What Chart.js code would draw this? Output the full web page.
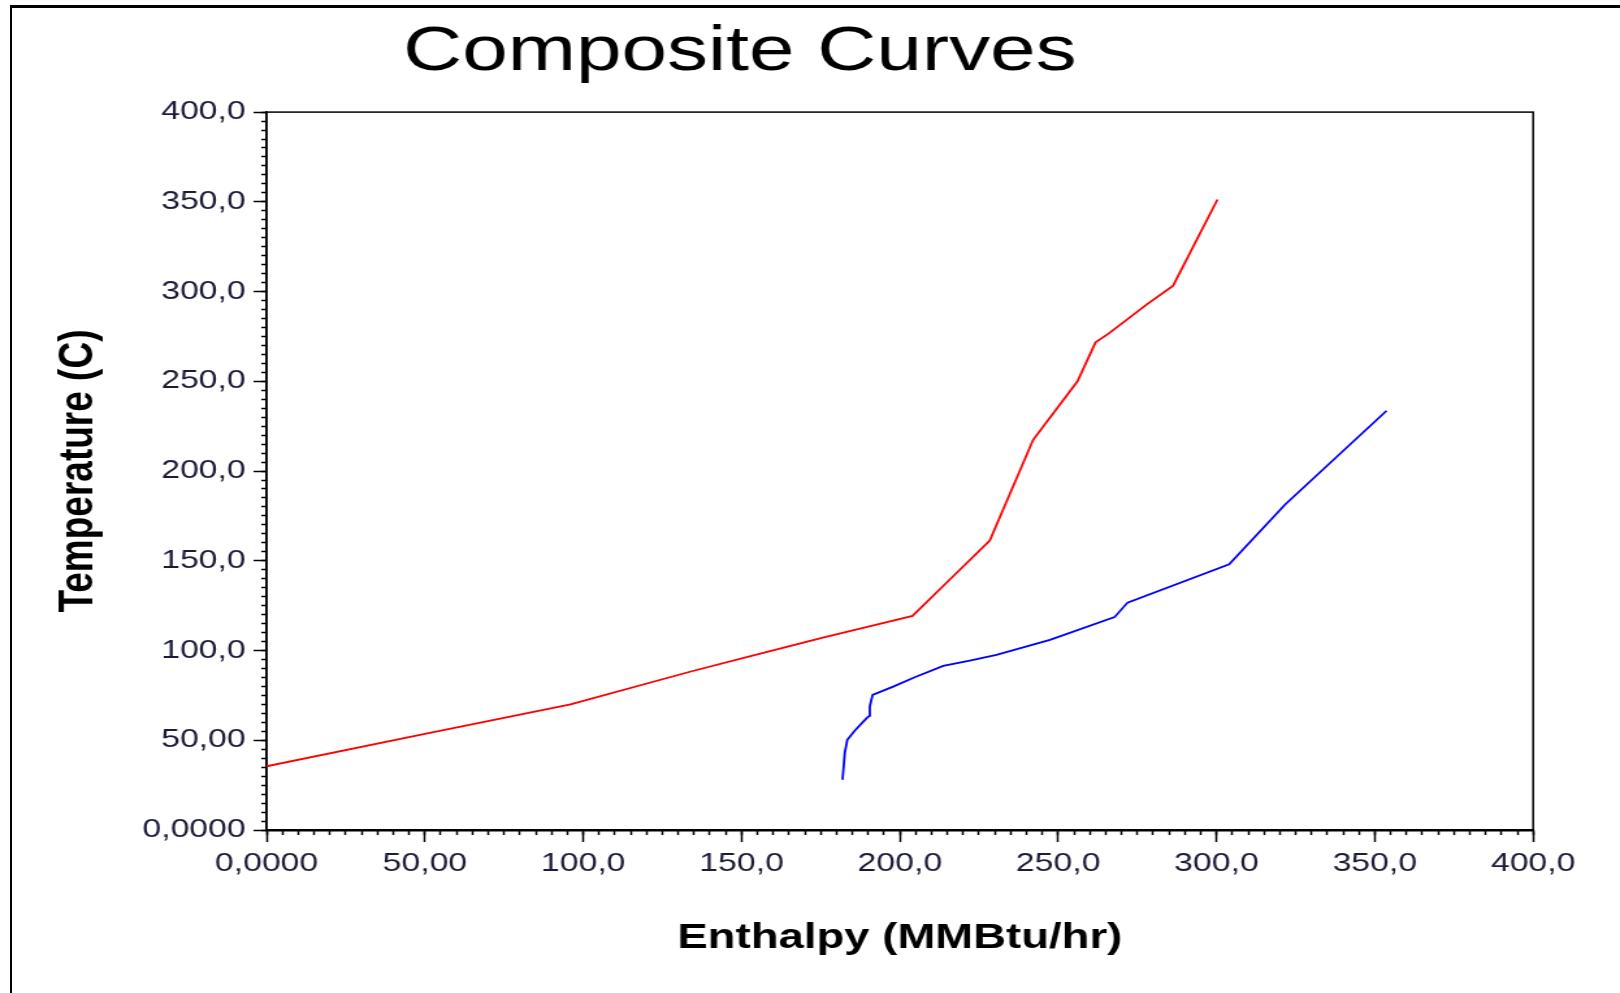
<!DOCTYPE html>
<html>
<head>
<meta charset="utf-8">
<title>Composite Curves</title>
<script src="https://cdn.jsdelivr.net/npm/chart.js@4.4.1/dist/chart.umd.min.js"></script>
<style>
  html, body { margin: 0; padding: 0; background: #fff; }
  body { width: 1620px; height: 993px; position: relative; overflow: hidden; }
  #frame { position: absolute; left: 10px; top: 5px; width: 1700px; height: 1100px;
           border-top: 3px solid #000; border-left: 2px solid #000; }
  #chart { position: absolute; left: 0; top: 0; }
</style>
</head>
<body>
<div id="frame"></div>
<!-- drawn at 1246 wide, shown 1620 wide (wide aspect like the old plot export) -->
<canvas id="chart" width="1246" height="993" style="width:1620px;height:993px"></canvas>
<script>
// Hot composite curve
const hotEnthalpy    = [0, 50, 96, 134, 155, 176, 192, 204, 214, 228.4, 242.1, 256.1, 261.8, 265.8, 277.9, 286.3, 300.3];
const hotTemperature = [35.5, 53.5, 70, 88.3, 97.8, 107.3, 114.1, 119.3, 136.5, 161.3, 217.4, 250, 271.7, 276.4, 292.7, 303.3, 351.3];

// Cold composite curve
const coldEnthalpy    = [181.9, 182.6, 183.4, 184.2, 185.8, 189.5, 190.4, 190.5, 191.4, 197.9, 204.7, 213.7, 222.1, 230.5, 247.4, 267.8, 271.9, 304, 321.6, 353.7];
const coldTemperature = [28, 42.8, 50.2, 52, 55.4, 62.3, 63.6, 68.8, 75.3, 79.9, 85.1, 91.4, 94.4, 97.6, 105.9, 118.6, 126.7, 148.1, 181.2, 233.6];

const xTickLabels = ["0,0000", "50,00", "100,0", "150,0", "200,0", "250,0", "300,0", "350,0", "400,0"];
const yTickLabels = ["0,0000", "50,00", "100,0", "150,0", "200,0", "250,0", "300,0", "350,0", "400,0"];

Chart.defaults.font.family = "'Liberation Sans', Arial, sans-serif";

// box round the plot area, and heading centre
const plotFrame = {
    id: 'plotFrame',
    afterLayout(chart) {
        chart.titleBlock.left = 0;
        chart.titleBlock.right = 1138;
    },
    beforeDatasetsDraw(chart) {
        const {ctx, chartArea: a} = chart;
        ctx.save();
        ctx.strokeStyle = '#000';
        ctx.lineWidth = 1.5;
        ctx.strokeRect(a.left, a.top, a.right - a.left, a.bottom - a.top);
        ctx.restore();
    }
};

// short ticks every 5 units, no labels
function minorAxis(axis, pos, len)
{
    return {
        type: 'linear', axis: axis, position: pos, min: 0, max: 400,
        border: { display: false },
        grid: { drawOnChartArea: false, tickLength: len, tickColor: '#000', tickWidth: 1.5 },
        ticks: { display: false, stepSize: 5 }
    };
}

function DrawChart()
{
    const ctx = document.getElementById("chart").getContext('2d');

    const hot = hotEnthalpy.map((h, i) => ({ x: h, y: hotTemperature[i] }));
    const cold = coldEnthalpy.map((h, i) => ({ x: h, y: coldTemperature[i] }));

    const tickFont = { size: 26 };
    const tickColor = '#1c1c38';

    new Chart(ctx, {
        type: 'line',
        data: {
            datasets: [{
                label: "Hot",
                data: hot,
                borderColor: '#ff0000',
                borderWidth: 1.8,
                pointRadius: 0,
                tension: 0,
                fill: false
            }, {
                label: "Cold",
                data: cold,
                borderColor: '#0000ff',
                borderWidth: 1.8,
                pointRadius: 0,
                tension: 0,
                fill: false
            }]
        },
        options: {
            responsive: false,
            animation: false,
            layout: { padding: { left: 0, top: 0, right: 66.8, bottom: 0 } },
            plugins: {
                legend: { display: false },
                tooltip: { enabled: false },
                title: {
                    display: true,
                    text: "Composite Curves",
                    color: '#000',
                    font: { size: 63, weight: 'normal', lineHeight: 1.2 },
                    padding: { top: 14.5, bottom: 22 }
                }
            },
            scales: {
                x: {
                    type: 'linear', position: 'bottom', min: 0, max: 400,
                    afterFit: s => { s.height = 163; },
                    border: { color: '#000', width: 2.5 },
                    grid: { drawOnChartArea: false, tickLength: 12, tickColor: '#000', tickWidth: 1.5 },
                    ticks: {
                        stepSize: 50, padding: 6, color: tickColor, font: tickFont,
                        maxRotation: 0, autoSkip: false,
                        callback: v => xTickLabels[Math.round(v / 50)]
                    },
                    title: {
                        display: true, text: "Enthalpy (MMBtu/hr)", color: '#000',
                        font: { size: 35, weight: 'bold', lineHeight: 1.2 },
                        padding: { top: 0, bottom: 33.4 }
                    }
                },
                y: {
                    type: 'linear', position: 'left', min: 0, max: 400,
                    afterFit: s => { s.width = 205; },
                    border: { color: '#000', width: 1.5 },
                    grid: { drawOnChartArea: false, tickLength: 10, tickColor: '#000', tickWidth: 1.5 },
                    ticks: {
                        stepSize: 50, padding: 6, color: tickColor, font: tickFont,
                        autoSkip: false,
                        callback: v => yTickLabels[Math.round(v / 50)]
                    },
                    title: {
                        display: true, text: "Temperature (C)", color: '#000',
                        font: { size: 37, weight: 'bold', lineHeight: 1.2 },
                        padding: { top: 39, bottom: 0 }
                    }
                },
                xMinor: minorAxis('x', { y: 0 }, 5),
                yMinor: minorAxis('y', { x: 0 }, 4)
            }
        },
        plugins: [plotFrame]
    });
}

DrawChart();
</script>
</body>
</html>
